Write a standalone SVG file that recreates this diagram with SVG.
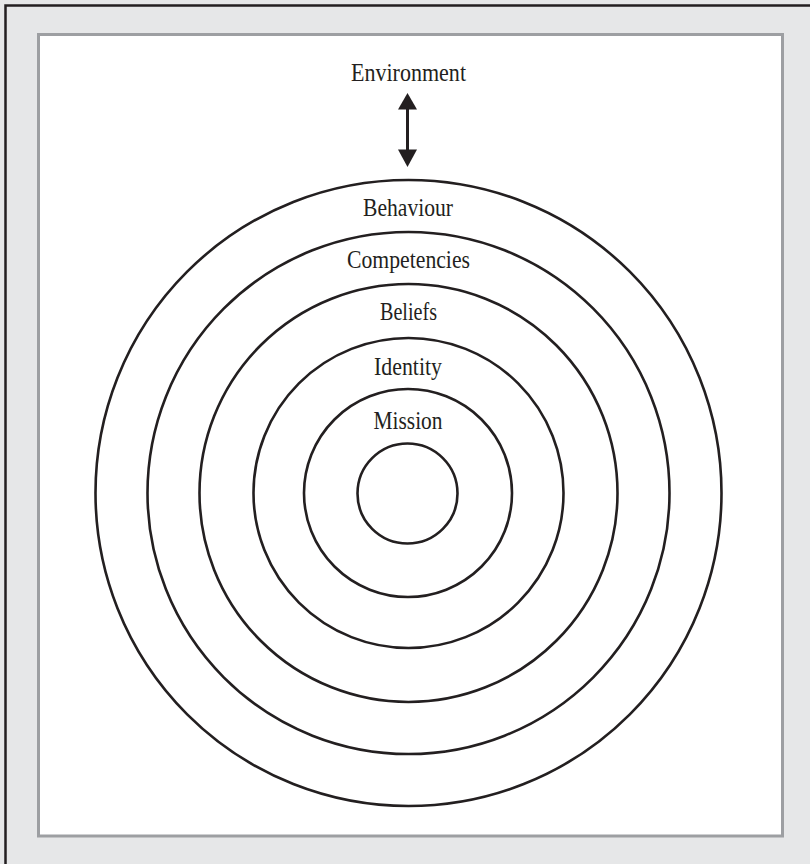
<svg xmlns="http://www.w3.org/2000/svg" width="810" height="864" viewBox="0 0 810 864">
<defs>
<style>
.ring{fill:none;stroke:#231f20;stroke-width:2.6}
.lbl{font-family:"Liberation Serif","Times New Roman",serif;font-size:25px;fill:#231f20;text-anchor:middle}
.head{fill:#231f20}
</style>
</defs>
<rect x="0" y="0" width="810" height="864" fill="#e6e7e8"/>
<path d="M5.5,864 V5.5 H810" fill="none" stroke="#231f20" stroke-width="2.5"/>
<rect x="38.5" y="34.5" width="744" height="801.5" fill="#ffffff" stroke="#9d9fa2" stroke-width="3"/>
<g id="connectors">
<line x1="407.5" y1="109" x2="407.5" y2="150" stroke="#231f20" stroke-width="3"/>
<polygon class="head" points="407.5,93 398,109.5 417,109.5"/>
<polygon class="head" points="407.5,167 398,149.5 417,149.5"/>
</g>
<g id="environment"><text class="lbl" x="408.5" y="81" textLength="115" lengthAdjust="spacingAndGlyphs">Environment</text></g>
<g id="behaviour"><circle class="ring" cx="408.5" cy="493" r="313"/><text class="lbl" x="408" y="216" textLength="90" lengthAdjust="spacingAndGlyphs">Behaviour</text></g>
<g id="competencies"><circle class="ring" cx="408.5" cy="493" r="261"/><text class="lbl" x="408.5" y="268" textLength="123" lengthAdjust="spacingAndGlyphs">Competencies</text></g>
<g id="beliefs"><circle class="ring" cx="408.5" cy="493" r="209"/><text class="lbl" x="408.5" y="320" textLength="57" lengthAdjust="spacingAndGlyphs">Beliefs</text></g>
<g id="identity"><circle class="ring" cx="408.5" cy="493" r="155"/><text class="lbl" x="408" y="375" textLength="68" lengthAdjust="spacingAndGlyphs">Identity</text></g>
<g id="mission"><circle class="ring" cx="408" cy="493" r="104"/><text class="lbl" x="408" y="429" textLength="69" lengthAdjust="spacingAndGlyphs">Mission</text></g>
<g id="core"><circle class="ring" cx="407.5" cy="493.5" r="50"/></g>
</svg>
